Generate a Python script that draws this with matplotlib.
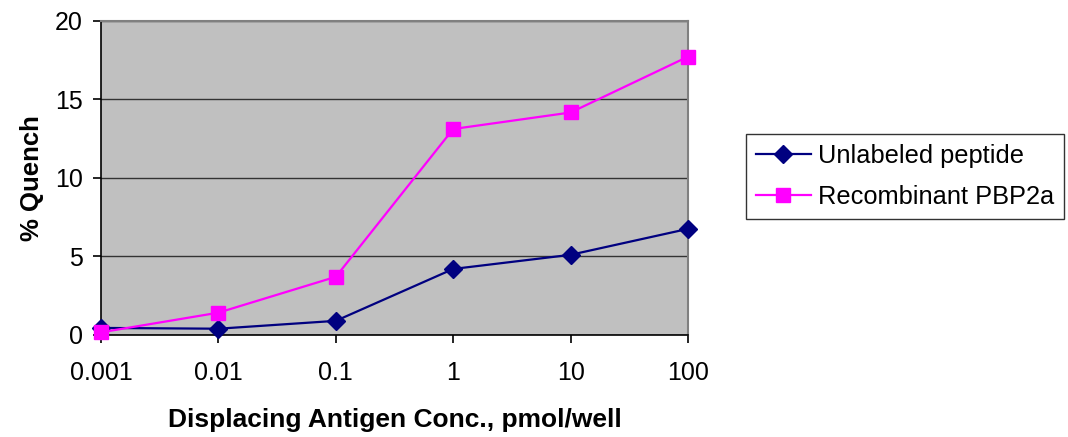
import matplotlib
matplotlib.use("Agg")
import matplotlib.pyplot as plt

# Displacement assay data
concentrations = ["0.001", "0.01", "0.1", "1", "10", "100"]
unlabeled_peptide = [0.45, 0.4, 0.9, 4.2, 5.1, 6.75]
recombinant_pbp2a = [0.17, 1.42, 3.7, 13.1, 14.15, 17.7]
y_ticks = [0, 5, 10, 15, 20]

plt.rcParams["font.family"] = ["Liberation Sans", "DejaVu Sans"]

fig = plt.figure(figsize=(10.68, 4.37), dpi=100)
ax = fig.add_axes([101 / 1068, 1 - 335 / 437, (688 - 101) / 1068, (335 - 20.5) / 437])

x = list(range(len(concentrations)))
ax.set_facecolor("#C0C0C0")
ax.plot(x, unlabeled_peptide, color="#000080", lw=1.6, marker="D", ms=9,
        label="Unlabeled peptide", zorder=3, clip_on=False)
ax.plot(x, recombinant_pbp2a, color="#FF00FF", lw=1.6, marker="s", ms=9.5,
        label="Recombinant PBP2a", zorder=4, clip_on=False)

ax.set_xlim(0, len(concentrations) - 1)
ax.set_ylim(0, 20)
ax.set_xticks(x)
ax.set_xticklabels(concentrations)
ax.set_yticks(y_ticks)
ax.yaxis.grid(True, color="#333333", lw=1)
ax.set_axisbelow(True)

for side in ("top", "right"):
    ax.spines[side].set_color("#808080")
    ax.spines[side].set_linewidth(1.5)
for side in ("left", "bottom"):
    ax.spines[side].set_color("#000000")
    ax.spines[side].set_linewidth(1.2)

ax.tick_params(axis="both", labelsize=18, direction="out", length=6, width=1.2,
               colors="#000000")
ax.tick_params(axis="x", pad=13)
ax.tick_params(axis="y", pad=7)

ax.set_xlabel("Displacing Antigen Conc., pmol/well", fontsize=19, fontweight="bold",
              labelpad=16)
ax.set_ylabel("% Quench", fontsize=18.5, fontweight="bold", labelpad=8)

leg = ax.legend(loc="upper left", bbox_to_anchor=(746 / 1068, 1 - 134 / 437),
                bbox_transform=fig.transFigure, fontsize=18.3, frameon=True,
                fancybox=False, edgecolor="#000000", handlelength=2.15,
                borderpad=0.4, labelspacing=0.65, handletextpad=0.28,
                borderaxespad=0)
leg.get_frame().set_linewidth(1.0)

fig.savefig("out.png", dpi=100)
